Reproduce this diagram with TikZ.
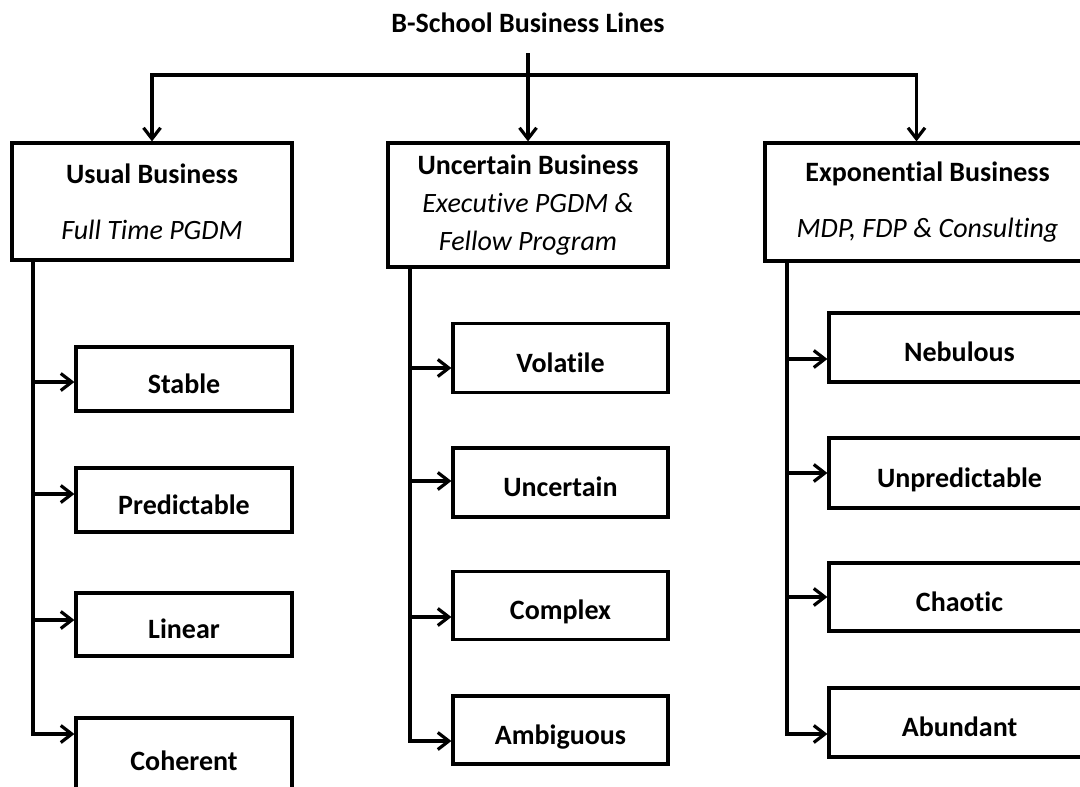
\documentclass[tikz,border=0pt]{standalone}
\usepackage{fontspec}
\setmainfont{Carlito}[Ligatures=NoCommon]
\usetikzlibrary{arrows.meta}

\tikzset{
  wire/.style={line width=3.2pt},
  link/.style={wire, -{Straight Barb[length=11pt,width=17pt]}},
  headbox/.style={draw, wire, align=center, inner sep=0pt, font=\fontsize{28}{38}\selectfont},
  leafbox/.style={draw, wire, inner sep=0pt, text height=28pt, text depth=0pt, font=\fontsize{28}{34}\selectfont\bfseries}
}

\begin{document}
\begin{tikzpicture}[x=1pt,y=-1pt]
      \useasboundingbox (0,0) rectangle (1080,787);
      \node (title) at (528,23) {\fontsize{28}{34}\selectfont\bfseries B-School Business Lines};
      \node [headbox, minimum width=280pt, minimum height=117pt] (usual) at (152,201.5) {\textbf{Usual Business}\\[18pt]\textit{Full Time PGDM}};
      \node [headbox, minimum width=280pt, minimum height=124pt] (uncert) at (528,205) {\textbf{Uncertain Business}\\\textit{Executive PGDM \&}\\\textit{Fellow Program}};
      \node [headbox, minimum width=325pt, minimum height=118pt] (expo) at (927.5,202) {\textbf{Exponential Business}\\[18pt]\textit{MDP, FDP \& Consulting}};
      \coordinate (drop) at (528,53);
      \coordinate (bar) at (528,75);
      \draw [link] (drop) -- (uncert.north);
      \draw [link] (bar) -| (usual.north);
      \draw [link] (bar) -| ([xshift=-11pt]expo.north);

      \node [leafbox, minimum width=216pt, minimum height=64pt] (stable) at (184,379) {Stable};
      \node [leafbox, minimum width=216pt, minimum height=64pt] (predictable) at (184,500) {Predictable};
      \node [leafbox, minimum width=216pt, minimum height=63pt] (linear) at (184,624.5) {Linear};
      \node [leafbox, minimum width=216pt, minimum height=76pt] (coherent) at (184,756) {Coherent};
      \coordinate (u1) at (33,382);
      \coordinate (u2) at (33,494);
      \coordinate (u3) at (33,620);
      \coordinate (u4) at (33,734);
      \draw [link] (usual.south -| u4) -- (u4) -- (u4 -| coherent.west);
      \draw [link] (u1) -- (u1 -| stable.west);
      \draw [link] (u2) -- (u2 -| predictable.west);
      \draw [link] (u3) -- (u3 -| linear.west);

      \node [leafbox, minimum width=215pt, minimum height=69pt] (volatile) at (560.5,358) {Volatile};
      \node [leafbox, minimum width=215pt, minimum height=69pt] (uncertain) at (560.5,482.5) {Uncertain};
      \node [leafbox, minimum width=215pt, minimum height=68pt] (complex) at (560.5,605.5) {Complex};
      \node [leafbox, minimum width=215pt, minimum height=68pt] (ambiguous) at (560.5,730) {Ambiguous};
      \coordinate (c1) at (410,368);
      \coordinate (c2) at (410,481);
      \coordinate (c3) at (410,617);
      \coordinate (c4) at (410,741);
      \draw [link] (uncert.south -| c4) -- (c4) -- (c4 -| ambiguous.west);
      \draw [link] (c1) -- (c1 -| volatile.west);
      \draw [link] (c2) -- (c2 -| uncertain.west);
      \draw [link] (c3) -- (c3 -| complex.west);

      \node [leafbox, minimum width=261pt, minimum height=69pt] (nebulous) at (959.5,347.5) {Nebulous};
      \node [leafbox, minimum width=261pt, minimum height=70pt] (unpredictable) at (959.5,473) {Unpredictable};
      \node [leafbox, minimum width=261pt, minimum height=68pt] (chaotic) at (959.5,597) {Chaotic};
      \node [leafbox, minimum width=261pt, minimum height=69pt] (abundant) at (959.5,722.5) {Abundant};
      \coordinate (e1) at (787,359);
      \coordinate (e2) at (787,473);
      \coordinate (e3) at (787,597);
      \coordinate (e4) at (787,734);
      \draw [link] (expo.south -| e4) -- (e4) -- (e4 -| abundant.west);
      \draw [link] (e1) -- (e1 -| nebulous.west);
      \draw [link] (e2) -- (e2 -| unpredictable.west);
      \draw [link] (e3) -- (e3 -| chaotic.west);
\end{tikzpicture}
\end{document}
